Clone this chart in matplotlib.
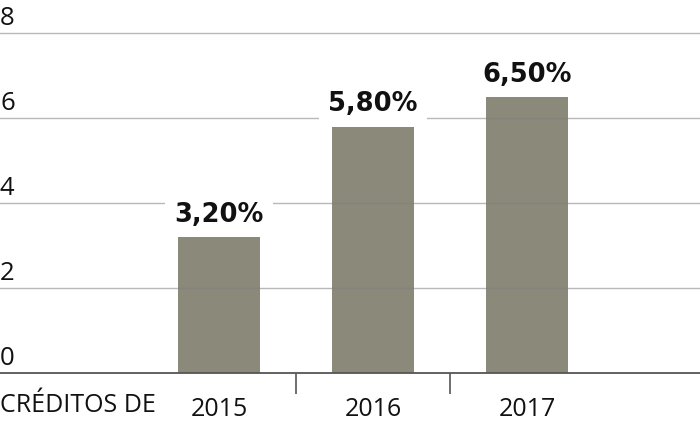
import numpy as np
import matplotlib.pyplot as plt

years = ['2015', '2016', '2017']
values = [3.2, 5.8, 6.5]
labels = ['3,20%', '5,80%', '6,50%']
yticks = [0, 2, 4, 6, 8]
prefix = 'CRÉDITOS DE'

thin = 'Open Sans'
bold = 'DejaVu Sans'

fig = plt.figure(figsize=(7, 4.25), dpi=100)
ax = fig.add_axes([0, 52 / 425, 1, 373 / 425])

x = np.arange(len(years))
ax.bar(x, values, width=0.53, color='#8b897a', zorder=2)

ax.set_xlim(-1.42, 3.12)
ax.set_ylim(0, 8.78)

# gridlines over the bars
for t in yticks[1:]:
    ax.axhline(t, color='#7f7f7f', alpha=0.55, lw=1, zorder=3)

# y labels sit above their line at the left edge
for t in yticks:
    ax.text(0.0, t + 0.19, str(t), transform=ax.get_yaxis_transform(),
            ha='left', va='baseline', fontsize=18.5, family=thin, color='#111111')

for xi, v, lab in zip(x, values, labels):
    ax.text(xi, v + 0.36, lab, ha='center', va='baseline', fontsize=18.5,
            family=bold, fontweight='bold', color='#111111', zorder=5,
            bbox=dict(boxstyle='square,pad=0.35', fc='white', ec='none'))

for s in ['top', 'left', 'right']:
    ax.spines[s].set_visible(False)
ax.spines['bottom'].set_color('#555555')
ax.spines['bottom'].set_linewidth(1.3)
ax.spines['bottom'].set_zorder(4)

ax.set_yticks([])
ax.set_xticks(x)
ax.set_xticklabels(years, fontsize=18, family=thin, color='#111111')
ax.tick_params(axis='x', which='major', length=0, pad=17)
ax.set_xticks(x[:-1] + 0.5, minor=True)
ax.tick_params(axis='x', which='minor', length=15, width=1.2, color='#555555')

fig.text(0.0, (425 - 406) / 425, prefix, ha='left', va='center',
         fontsize=18, family=thin, color='#111111')

fig.savefig('out.png', dpi=100)
